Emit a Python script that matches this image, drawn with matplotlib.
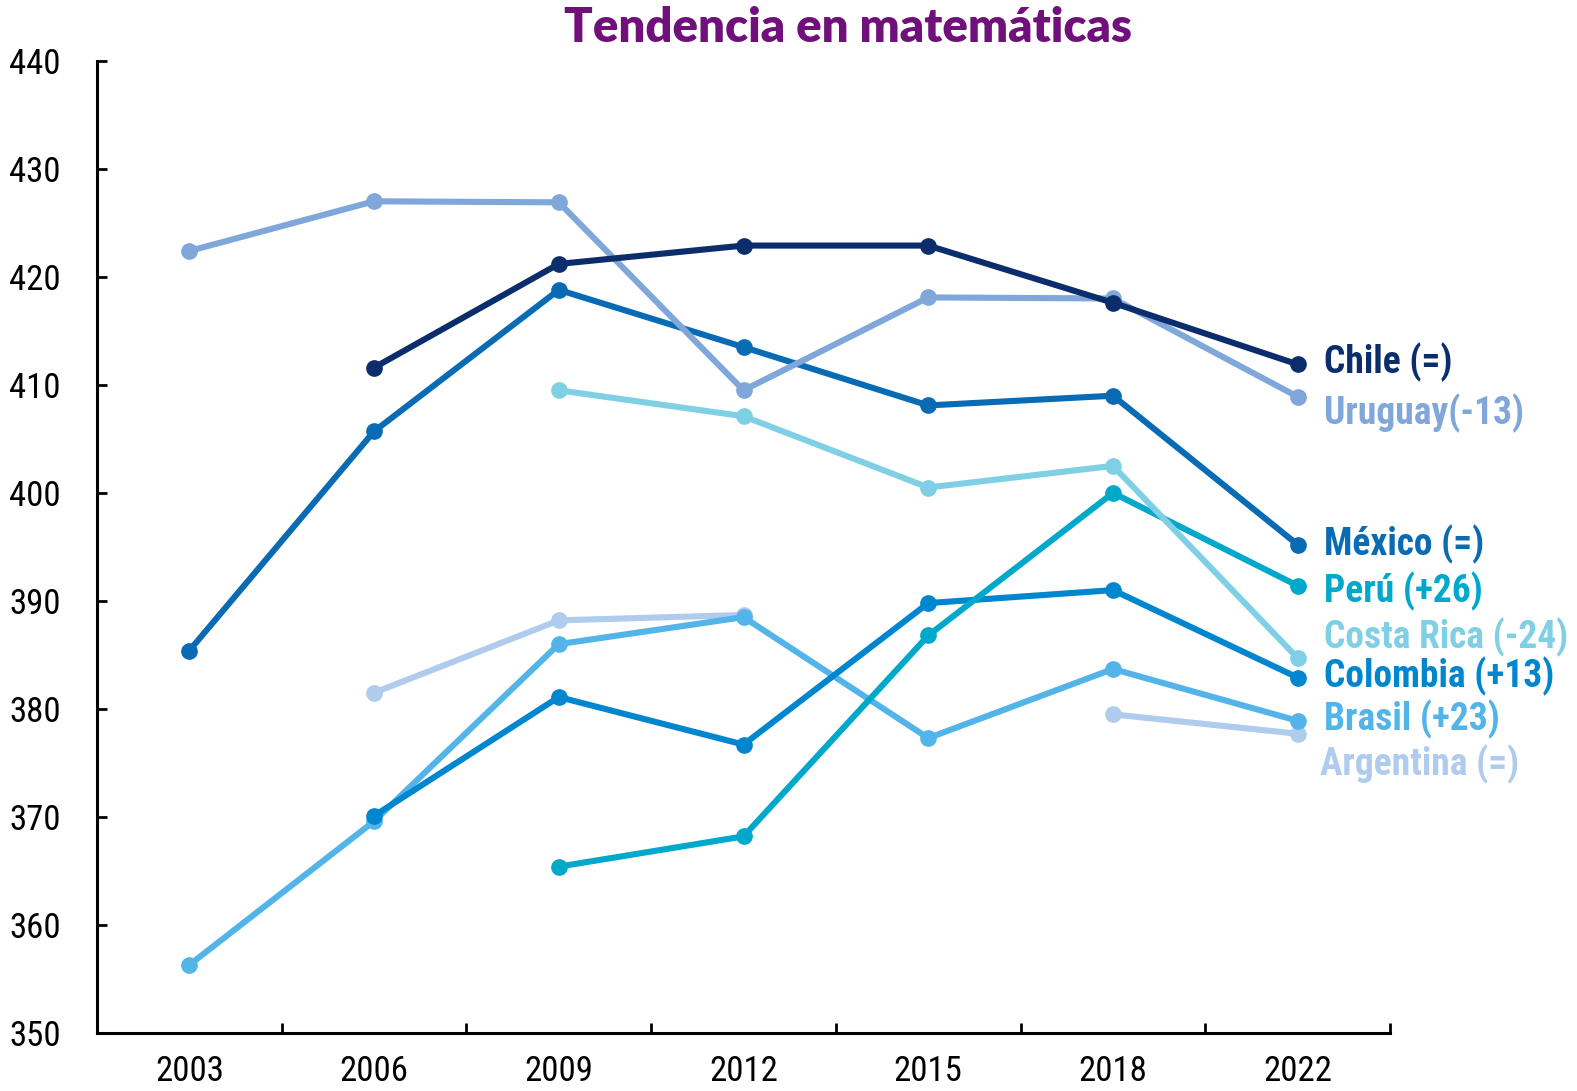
import matplotlib.pyplot as plt
import numpy as np

years = ['2003', '2006', '2009', '2012', '2015', '2018', '2022']
nan = np.nan

chile = [nan, 411.6, 421.2, 422.9, 422.9, 417.6, 411.9]
uruguay = [422.4, 427.0, 426.9, 409.5, 418.1, 418.0, 408.9]
mexico = [385.4, 405.7, 418.8, 413.5, 408.1, 409.0, 395.2]
costa_rica = [nan, nan, 409.5, 407.1, 400.5, 402.5, 384.7]
peru = [nan, nan, 365.4, 368.2, 386.8, 400.0, 391.4]
colombia = [nan, 370.1, 381.1, 376.7, 389.8, 391.0, 382.9]
brasil = [356.3, 369.6, 386.0, 388.5, 377.3, 383.7, 378.9]
argentina = [nan, 381.5, 388.2, 388.7, nan, 379.5, 377.7]

names = ['Chile (=)', 'Uruguay(-13)', 'México (=)', 'Costa Rica (-24)',
         'Perú (+26)', 'Colombia (+13)', 'Brasil (+23)', 'Argentina (=)']
series = [chile, uruguay, mexico, costa_rica, peru, colombia, brasil, argentina]
colors = ['#0B2D6B', '#7FA7DA', '#0A6BB5', '#7FD0E4',
          '#00A8CC', '#0086CF', '#52B4E8', '#AFCBEE']

# where the end labels sit (data units)
label_y = [412.1, 407.4, 395.2, 386.6, 390.9, 383.0, 379.0, 374.9]

fam = ['Roboto Condensed', 'Liberation Sans Narrow', 'Arial Narrow', 'DejaVu Sans']
plt.rcParams['font.family'] = fam
plt.rcParams['font.stretch'] = 'condensed'

fig = plt.figure(figsize=(15.77, 10.91), dpi=100)
ax = fig.add_axes([0.0615, 0.0532, 0.82, 0.891])

x = np.arange(len(years))
for i in [7, 6, 5, 4, 3, 2, 1, 0]:
    ax.plot(x, series[i], color=colors[i], lw=4.4, marker='o', ms=11,
            solid_capstyle='round')

for i, name in enumerate(names):
    dx = 0.14 if name != 'Argentina (=)' else 0.12
    ax.text(x[-1] + dx, label_y[i], name, color=colors[i], fontsize=27,
            fontweight='bold', va='center', ha='left', clip_on=False)

ax.set_xlim(-0.5, 6.5)
ax.set_ylim(350, 440)
ax.set_yticks(np.arange(350, 441, 10))
ax.set_xticks(x)
ax.set_xticklabels(years)
ax.set_xticks(np.arange(0.5, 7, 1), minor=True)
ax.tick_params(axis='x', which='major', length=0, pad=16, labelsize=25)
ax.tick_params(axis='x', which='minor', length=7, width=2, direction='in')
ax.tick_params(axis='y', length=7, width=2, direction='in', pad=26, labelsize=25)
for s in ['top', 'right']:
    ax.spines[s].set_visible(False)
for s in ['left', 'bottom']:
    ax.spines[s].set_linewidth(2.2)

fig.text(0.538, 0.974, 'Tendencia en matemáticas', color='#70107A',
         fontsize=34, fontweight='heavy', ha='center', va='center',
         family=['Lato', 'DejaVu Sans'])

fig.savefig('out.png', dpi=100)
